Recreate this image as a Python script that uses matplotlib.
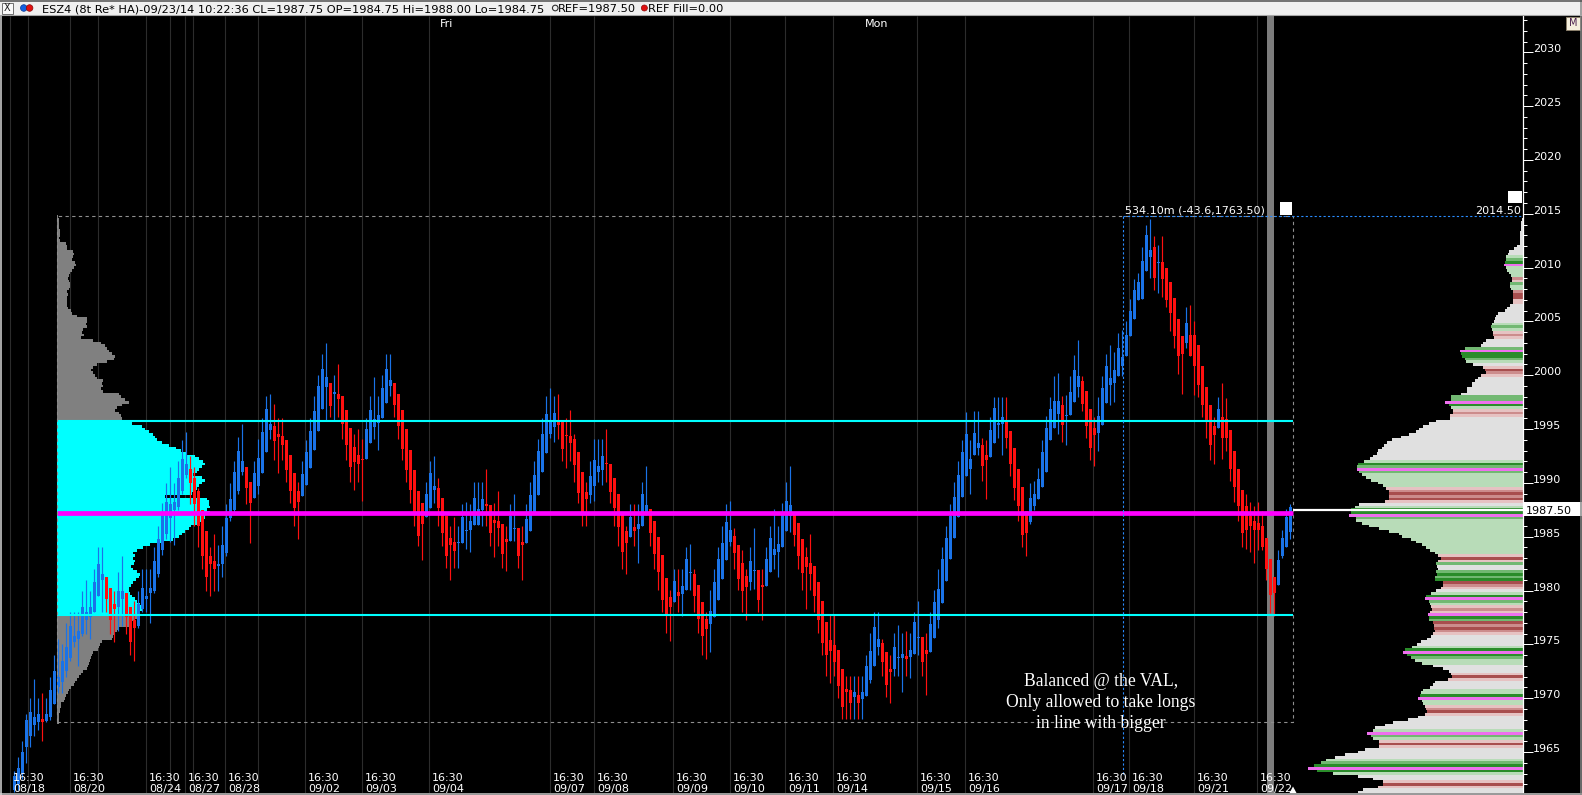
import numpy as np
import matplotlib
matplotlib.use("Agg")
import matplotlib.pyplot as plt
from matplotlib import transforms
from matplotlib.patches import Rectangle, Circle, Polygon

# ------------------------------------------------------------------ data
opens = [
    1961.5, 1962.0, 1963.0, 1965.5, 1966.5, 1967.5, 1967.75, 1968.1, 1967.9, 1968.25,
    1969.5, 1971.0, 1971.5, 1972.5, 1973.75, 1975.25, 1975.5, 1976.0, 1977.25, 1977.5,
    1978.0, 1979.5, 1981.0, 1981.25, 1980.25, 1978.75, 1978.5, 1979.25, 1979.75, 1978.5,
    1977.25, 1976.75, 1978.25, 1979.25, 1979.75, 1980.0, 1981.5, 1983.75, 1985.25, 1986.75,
    1987.5, 1987.75, 1989.25, 1990.75, 1991.25, 1990.5, 1989.25, 1987.5, 1985.5, 1983.25,
    1982.75, 1982.25, 1982.5, 1983.5, 1986.75, 1987.5, 1989.25, 1991.0, 1991.5, 1990.1,
    1988.6, 1989.7, 1990.9, 1992.9, 1994.9, 1995.3, 1994.5, 1994.35, 1994.0, 1992.6,
    1990.9, 1989.25, 1988.8, 1989.8, 1991.35, 1993.05, 1994.85, 1996.9, 1998.9, 1999.3,
    1998.3, 1998.3, 1998.1, 1996.8, 1995.1, 1993.3, 1992.6, 1992.2, 1992.25, 1993.7,
    1995.2, 1995.6, 1996.0, 1997.45, 1999.0, 1999.3, 1998.3, 1996.8, 1995.0, 1993.05,
    1991.2, 1989.25, 1988.1, 1986.8, 1987.7, 1989.35, 1989.5, 1988.6, 1986.9, 1984.9,
    1984.5, 1984.4, 1984.4, 1985.56, 1985.6, 1986.1, 1986.1, 1987.5, 1987.95, 1987.95,
    1986.55, 1986.45, 1986.15, 1984.75, 1984.6, 1985.75, 1985.8, 1984.5, 1984.4, 1985.5,
    1987.2, 1988.9, 1991.0, 1992.75, 1994.55, 1995.2, 1995.85, 1995.7, 1994.45, 1994.35,
    1994.08, 1992.9, 1991.0, 1989.2, 1988.9, 1989.75, 1991.0, 1991.2, 1991.85, 1991.8,
    1990.5, 1989.0, 1987.3, 1985.55, 1985.0, 1985.9, 1985.7, 1985.95, 1987.0, 1987.6,
    1986.5, 1985.0, 1983.3, 1981.15, 1979.4, 1978.9, 1979.9, 1979.7, 1980.05, 1981.6,
    1981.55, 1980.5, 1978.95, 1977.35, 1976.9, 1977.5, 1979.1, 1981.1, 1982.8, 1984.55,
    1985.05, 1984.2, 1982.6, 1981.35, 1980.8, 1981.8, 1981.9, 1980.5, 1980.4, 1981.75,
    1983.3, 1983.6, 1984.0, 1985.5, 1986.95, 1987.3, 1986.25, 1984.75, 1983.1, 1982.6,
    1982.3, 1980.8, 1979.05, 1977.1, 1975.4, 1974.95, 1974.5, 1972.7, 1970.9, 1970.75,
    1970.15, 1970.3, 1969.95, 1970.25, 1971.65, 1973.0, 1974.8, 1975.1, 1974.25, 1972.7,
    1972.7, 1973.75, 1973.7, 1973.9, 1973.8, 1974.1, 1975.6, 1975.7, 1974.5, 1974.3,
    1975.6, 1977.3, 1978.8, 1980.9, 1982.9, 1984.85, 1986.8, 1988.7, 1990.6, 1991.3,
    1992.55, 1993.2, 1993.5, 1992.6, 1992.4, 1993.7, 1995.4, 1995.5, 1995.7, 1994.8,
    1993.2, 1991.3, 1989.6, 1987.4, 1986.4, 1987.9, 1988.5, 1989.6, 1991.0, 1994.0,
    1995.1, 1996.4, 1997.2, 1996.2, 1996.3, 1997.5, 1998.9, 1999.5, 1998.5, 1996.9,
    1995.1, 1994.6, 1995.4, 1997.4, 1999.1, 1999.3, 1999.9, 2000.9, 2001.8, 2003.6,
    2005.2, 2007.0, 2007.1, 2009.7, 2010.95, 2011.9, 2010.4, 2010.5, 2010.0, 2008.7,
    2007.2, 2005.2, 2003.6, 2002.95, 2003.75, 2003.75, 2002.8, 2000.9, 1998.95, 1997.2,
    1995.25, 1995.1, 1996.1, 1995.9, 1994.95, 1993.0, 1991.3, 1989.35, 1987.9, 1986.95,
    1986.5, 1986.3, 1985.98, 1984.9, 1982.9, 1981.3, 1980.5, 1983.25, 1984.0, 1985.4,
]
closes = [
    1962.75, 1963.5, 1965.0, 1968.0, 1968.75, 1968.25, 1968.5, 1967.75, 1968.5, 1970.75,
    1972.5, 1972.0, 1973.5, 1974.75, 1976.75, 1975.75, 1976.25, 1978.5, 1978.0, 1978.5,
    1980.75, 1982.5, 1981.5, 1979.25, 1977.25, 1978.25, 1980.0, 1980.0, 1977.5, 1975.25,
    1976.5, 1978.75, 1980.25, 1979.5, 1980.25, 1982.75, 1984.75, 1987.0, 1988.25, 1988.0,
    1988.25, 1990.5, 1992.25, 1991.75, 1990.0, 1988.0, 1986.0, 1983.25, 1981.25, 1982.5,
    1982.0, 1982.5, 1984.25, 1986.75, 1988.5, 1991.0, 1993.0, 1992.0, 1989.5, 1988.1,
    1990.9, 1992.3, 1994.75, 1996.9, 1995.5, 1993.9, 1994.3, 1993.5, 1991.2, 1989.25,
    1987.7, 1988.25, 1990.8, 1992.9, 1994.8, 1996.7, 1999.0, 2000.6, 1999.8, 1997.15,
    1998.4, 1997.8, 1995.5, 1993.5, 1991.45, 1991.9, 1991.8, 1992.1, 1995.0, 1996.8,
    1995.9, 1996.3, 1998.8, 2000.6, 1999.6, 1997.2, 1995.3, 1993.15, 1991.2, 1989.3,
    1987.3, 1985.1, 1986.2, 1988.95, 1990.9, 1989.7, 1987.7, 1985.3, 1983.2, 1984.2,
    1983.7, 1984.5, 1986.8, 1985.62, 1986.5, 1988.6, 1987.6, 1988.5, 1987.9, 1985.3,
    1986.3, 1985.8, 1983.4, 1984.55, 1986.95, 1985.85, 1983.25, 1984.2, 1986.65, 1988.9,
    1990.7, 1992.95, 1994.5, 1996.4, 1995.85, 1996.5, 1995.4, 1993.15, 1994.35, 1993.75,
    1991.67, 1989.1, 1987.3, 1988.5, 1990.6, 1992.1, 1991.6, 1992.5, 1991.75, 1989.2,
    1987.7, 1985.9, 1983.6, 1984.45, 1986.8, 1985.55, 1986.2, 1988.95, 1987.95, 1985.3,
    1983.4, 1981.7, 1979.1, 1977.6, 1978.45, 1980.9, 1979.5, 1980.45, 1982.9, 1981.7,
    1979.5, 1977.4, 1975.8, 1976.4, 1978.1, 1980.8, 1982.9, 1984.4, 1986.35, 1985.6,
    1983.5, 1981.1, 1980.0, 1980.35, 1982.75, 1981.9, 1979.1, 1980.35, 1982.9, 1984.85,
    1983.9, 1984.3, 1987.1, 1988.3, 1987.95, 1985.15, 1983.25, 1981.6, 1982.15, 1981.55,
    1979.45, 1977.3, 1975.15, 1974.0, 1974.4, 1973.4, 1971.1, 1969.15, 1970.6, 1969.6,
    1970.55, 1969.6, 1970.55, 1973.0, 1974.4, 1976.65, 1975.5, 1973.4, 1971.2, 1972.45,
    1974.75, 1973.8, 1974.15, 1973.65, 1974.5, 1977.05, 1975.7, 1973.4, 1974.1, 1976.9,
    1978.9, 1980.15, 1982.9, 1984.85, 1986.95, 1988.7, 1990.75, 1992.9, 1994.5, 1992.25,
    1994.6, 1993.7, 1991.6, 1992.1, 1994.95, 1997.0, 1995.6, 1996.1, 1994.15, 1991.75,
    1989.5, 1987.9, 1985.2, 1985.3, 1988.6, 1989.0, 1990.4, 1992.9, 1995.1, 1996.9,
    1997.6, 1997.6, 1995.4, 1996.35, 1998.4, 2000.5, 1999.9, 1997.35, 1995.25, 1993.2,
    1994.45, 1996.2, 1998.8, 2000.9, 1999.75, 2000.5, 2002.5, 2001.7, 2003.75, 2006.0,
    2007.9, 2008.7, 2010.6, 2013.05, 2011.6, 2009.05, 2010.5, 2008.9, 2006.95, 2005.8,
    2003.6, 2001.8, 2002.0, 2004.9, 2001.8, 2000.9, 1999.1, 1997.2, 1995.75, 1993.5,
    1994.45, 1996.9, 1994.15, 1994.15, 1991.3, 1989.65, 1987.9, 1985.35, 1985.65, 1985.98,
    1985.65, 1985.65, 1984.05, 1981.98, 1979.6, 1979.75, 1982.8, 1984.85, 1986.8, 1987.75,
]
highs = [
    1963.25, 1964.5, 1966.0, 1968.5, 1970.0, 1971.75, 1970.0, 1970.5, 1970.0, 1972.0,
    1974.0, 1975.5, 1975.0, 1977.0, 1978.0, 1978.0, 1978.0, 1980.0, 1981.0, 1980.0,
    1982.0, 1984.0, 1984.0, 1981.25, 1980.25, 1980.0, 1981.75, 1983.25, 1979.75, 1978.5,
    1979.0, 1980.0, 1982.0, 1982.0, 1982.0, 1984.0, 1986.0, 1988.1, 1990.0, 1991.5,
    1990.0, 1992.0, 1994.0, 1994.75, 1992.5, 1991.5, 1989.5, 1987.5, 1985.5, 1984.0,
    1985.25, 1984.25, 1986.0, 1988.0, 1990.0, 1992.0, 1994.25, 1995.5, 1991.5, 1990.1,
    1992.0, 1994.1, 1996.0, 1998.1, 1998.25, 1997.3, 1996.0, 1996.0, 1994.0, 1992.6,
    1990.9, 1990.05, 1992.0, 1994.0, 1996.0, 1998.1, 2000.0, 2002.0, 2003.0, 1999.3,
    2000.0, 2001.0, 1998.1, 1996.8, 1995.1, 1994.5, 1995.0, 1994.1, 1996.0, 1998.1,
    1999.8, 1998.1, 2000.0, 2002.0, 2002.0, 1999.3, 1998.3, 1996.8, 1995.0, 1993.05,
    1991.2, 1989.25, 1988.1, 1990.05, 1992.0, 1992.5, 1990.5, 1988.6, 1986.9, 1986.0,
    1986.8, 1986.0, 1988.0, 1988.25, 1988.0, 1990.05, 1990.05, 1990.05, 1991.25, 1987.95,
    1988.1, 1989.25, 1986.15, 1986.0, 1988.05, 1989.0, 1985.8, 1986.0, 1988.05, 1990.05,
    1992.05, 1994.1, 1996.0, 1998.1, 1998.8, 1998.1, 1998.25, 1995.7, 1996.0, 1996.8,
    1994.5, 1992.9, 1991.0, 1990.1, 1992.07, 1994.1, 1994.1, 1994.1, 1994.98, 1991.8,
    1990.5, 1989.0, 1987.3, 1986.0, 1988.05, 1988.05, 1988.05, 1990.1, 1991.6, 1987.6,
    1986.5, 1985.0, 1983.3, 1981.15, 1980.05, 1981.98, 1981.98, 1981.98, 1984.0, 1984.3,
    1981.98, 1980.5, 1978.95, 1978.05, 1980.05, 1981.98, 1984.0, 1986.0, 1988.05, 1988.3,
    1985.8, 1984.2, 1983.8, 1981.98, 1984.0, 1985.8, 1981.9, 1981.98, 1984.0, 1986.0,
    1987.55, 1986.0, 1988.1, 1990.1, 1991.6, 1987.3, 1986.25, 1984.75, 1984.05, 1985.25,
    1982.3, 1980.8, 1979.05, 1977.1, 1977.8, 1977.8, 1974.5, 1972.7, 1972.07, 1972.07,
    1972.07, 1972.07, 1972.07, 1974.0, 1976.03, 1978.0, 1978.0, 1975.5, 1974.25, 1974.0,
    1976.03, 1976.8, 1976.03, 1976.25, 1976.03, 1978.0, 1979.0, 1975.7, 1976.03, 1978.0,
    1980.05, 1981.98, 1984.0, 1986.0, 1988.05, 1990.05, 1992.05, 1994.0, 1996.55, 1994.0,
    1996.7, 1996.7, 1994.15, 1994.0, 1996.1, 1998.0, 1998.0, 1998.0, 1998.0, 1994.8,
    1993.2, 1991.3, 1989.6, 1987.4, 1990.0, 1990.15, 1991.4, 1994.0, 1996.2, 1998.0,
    1999.9, 2000.2, 1998.1, 1998.2, 1999.9, 2001.9, 2003.3, 1999.9, 1998.5, 1996.9,
    1996.1, 1998.0, 1999.9, 2002.0, 2002.8, 2002.15, 2003.9, 2004.2, 2005.0, 2007.1,
    2008.9, 2009.5, 2011.9, 2014.0, 2014.5, 2012.9, 2012.1, 2012.9, 2010.0, 2008.7,
    2007.2, 2005.2, 2003.6, 2006.3, 2006.5, 2005.0, 2002.8, 2000.9, 1998.95, 1997.2,
    1996.1, 1998.0, 1999.25, 1997.85, 1994.95, 1993.0, 1991.3, 1989.35, 1989.0, 1988.2,
    1987.9, 1988.2, 1987.4, 1984.9, 1982.9, 1981.3, 1983.75, 1985.6, 1987.6, 1988.0,
]
lows = [
    1961.25, 1961.5, 1962.5, 1964.0, 1965.5, 1966.5, 1967.0, 1966.0, 1967.75, 1968.0,
    1969.5, 1970.5, 1970.5, 1972.0, 1973.5, 1974.75, 1973.0, 1975.75, 1976.0, 1975.5,
    1978.0, 1979.5, 1978.0, 1978.0, 1976.0, 1975.25, 1976.25, 1976.75, 1976.0, 1974.0,
    1973.5, 1976.5, 1978.0, 1978.0, 1977.0, 1979.75, 1981.25, 1983.3, 1984.75, 1984.5,
    1984.25, 1987.5, 1989.0, 1990.5, 1988.0, 1986.0, 1984.0, 1982.0, 1980.0, 1979.5,
    1980.0, 1980.0, 1981.25, 1983.25, 1986.5, 1987.25, 1989.0, 1990.75, 1988.0, 1984.4,
    1988.6, 1989.0, 1990.9, 1992.9, 1994.1, 1992.1, 1990.9, 1992.1, 1990.1, 1988.1,
    1986.0, 1984.8, 1988.8, 1989.8, 1991.35, 1993.05, 1994.85, 1996.9, 1995.8, 1996.1,
    1995.85, 1996.1, 1994.1, 1992.1, 1990.1, 1989.3, 1990.1, 1988.35, 1992.25, 1993.7,
    1994.1, 1993.1, 1996.0, 1997.45, 1998.1, 1996.1, 1994.1, 1992.1, 1990.1, 1988.1,
    1986.0, 1984.1, 1982.8, 1986.8, 1987.7, 1988.1, 1986.0, 1984.1, 1982.1, 1981.0,
    1982.1, 1982.1, 1984.4, 1983.9, 1983.6, 1986.1, 1986.1, 1986.0, 1986.0, 1984.1,
    1983.1, 1984.1, 1982.1, 1981.85, 1984.6, 1984.6, 1982.1, 1981.0, 1984.4, 1985.5,
    1987.2, 1988.9, 1991.0, 1992.75, 1994.15, 1993.8, 1994.1, 1992.07, 1991.35, 1992.07,
    1990.1, 1988.1, 1986.0, 1986.0, 1988.1, 1988.35, 1990.1, 1989.8, 1990.1, 1988.1,
    1986.0, 1984.1, 1982.0, 1981.55, 1985.0, 1984.1, 1982.6, 1985.95, 1987.0, 1984.1,
    1982.0, 1980.05, 1978.05, 1976.03, 1975.35, 1978.9, 1978.05, 1977.6, 1980.05, 1980.05,
    1978.05, 1976.03, 1974.0, 1973.6, 1974.3, 1977.5, 1979.1, 1981.1, 1982.8, 1984.1,
    1981.98, 1980.05, 1978.05, 1977.3, 1980.05, 1980.1, 1978.05, 1977.3, 1980.4, 1981.75,
    1982.0, 1981.3, 1984.0, 1985.5, 1985.45, 1984.1, 1982.0, 1980.05, 1978.3, 1980.05,
    1978.05, 1976.03, 1974.0, 1972.05, 1971.4, 1972.07, 1970.0, 1968.05, 1968.05, 1968.05,
    1968.05, 1968.05, 1968.05, 1970.25, 1971.4, 1973.0, 1974.0, 1972.07, 1970.15, 1969.6,
    1972.07, 1972.07, 1970.6, 1972.07, 1971.85, 1974.1, 1974.0, 1972.07, 1970.3, 1974.3,
    1975.6, 1976.55, 1978.8, 1980.9, 1982.9, 1984.85, 1986.8, 1988.7, 1990.6, 1989.0,
    1992.55, 1992.55, 1990.15, 1988.5, 1992.4, 1993.7, 1994.15, 1992.55, 1993.2, 1990.6,
    1988.4, 1986.45, 1984.05, 1983.25, 1986.2, 1987.5, 1988.5, 1989.6, 1991.0, 1994.0,
    1995.1, 1994.5, 1993.8, 1993.5, 1996.3, 1997.5, 1998.0, 1996.7, 1994.15, 1992.1,
    1991.6, 1993.0, 1995.4, 1997.4, 1997.2, 1997.5, 1999.9, 1999.9, 2001.8, 2003.6,
    2005.2, 2007.0, 2007.1, 2009.7, 2009.05, 2007.9, 2007.6, 2007.3, 2006.3, 2004.1,
    2002.5, 2000.1, 1998.3, 2002.5, 2001.8, 1998.15, 1998.0, 1996.1, 1994.15, 1992.1,
    1991.75, 1995.1, 1992.25, 1993.0, 1990.15, 1988.2, 1986.45, 1984.05, 1983.9, 1983.6,
    1982.6, 1983.75, 1983.75, 1981.0, 1977.9, 1977.65, 1980.5, 1983.0, 1984.0, 1984.75,
]

# session separators (in bar units) with their labels
session_pos = [-1.0, 14.0, 33.0, 42.75, 52.75, 72.75, 87.0, 103.75, 134.0, 145.0,
               164.75, 179.0, 192.75, 204.75, 225.75, 237.75, 269.75, 278.75, 295.0, 310.75]
session_dates = ['08/18', '08/20', '08/24', '08/27', '08/28', '09/02', '09/03', '09/04', '09/07', '09/08',
                 '09/09', '09/10', '09/11', '09/14', '09/15', '09/16', '09/17', '09/18', '09/21', '09/22']
session_time = '16:30'
other_separators = [3.5, 21.0, 39.0, 44.75, 61.0]
selected_span = (313.25, 315.0)
day_pos = [108.25, 215.75]
day_names = ['Fri', 'Mon']

# composite profile on the left (volume per 0.25 tick, top row = 2014.75)
left_top = 2014.75
left_volume = [
    1,
    2, 2, 2, 2,
    3, 3, 3, 2,
    3, 9, 10, 10,
    16, 17, 16, 15,
    18, 19, 17, 15,
    13, 12, 11, 12,
    13, 13, 12, 10,
    11, 10, 10, 10,
    10, 11, 14, 15,
    20, 30, 30, 29,
    30, 26, 25, 27,
    24, 36, 44, 48,
    50, 52, 55, 58,
    57, 50, 40, 36,
    34, 36, 38, 40,
    46, 45, 46, 44,
    46, 62, 64, 68,
    72, 65, 60, 58,
    62, 64, 65, 70,
    75, 85, 88, 92,
    96, 98, 100, 105,
    112, 119, 124, 129,
    138, 142, 146, 148,
    145, 142, 140, 136,
    145, 148, 145, 142,
    140, 138, 135, 108,
    150, 152, 152, 153,
    150, 153, 148, 148,
    145, 140, 134, 132,
    128, 125, 122, 116,
    104, 93, 86, 80,
    76, 78, 76, 78,
    77, 74, 76, 80,
    83, 82, 79, 76,
    74, 72, 72, 73,
    75, 78, 80, 83,
    86, 85, 82, 80,
    83, 78, 75, 72,
    62, 60, 58, 56,
    55, 45, 43, 42,
    41, 36, 35, 34,
    33, 32, 31, 30,
    26, 24, 22, 20,
    18, 17, 14, 12,
    11, 9, 8, 7,
    4, 4, 3, 3,
    2, 2, 2, 2,
]
vah, val, poc = 1995.75, 1977.75, 1987.25
range_high, range_low = 2014.50, 1967.75
last_price = 1987.50
measure_text = '534.10m (-43.6,1763.50)'

# volume profile at the right axis (volume, kind) per 0.25 tick, top row = 2014.50
right_top = 2014.50
right_profile = [
    (1, 'g'),
    (2, 'g'), (2, 'g'), (2, 'g'), (2, 'g'),
    (3, 'g'), (3, 'g'), (3, 'g'), (3, 'g'),
    (3, 'g'), (6, 'g'), (9, 'g'), (14, 'g'),
    (15, 'g'), (17, 'l'), (17, 'm'), (18, 'd'),
    (19, 'x'), (17, 'l'), (16, 'l'), (14, 'l'),
    (12, 'l'), (11, 'r'), (11, 'p'), (13, 'm'),
    (13, 'l'), (12, 'l'), (10, 'r'), (10, 'k'),
    (10, 'k'), (10, 'p'), (10, 'p'), (13, 'g'),
    (16, 'g'), (18, 'g'), (25, 'g'), (27, 'g'),
    (28, 'g'), (29, 'g'), (31, 'l'), (32, 'm'),
    (31, 'l'), (30, 'p'), (30, 'r'), (29, 'p'),
    (37, 'g'), (40, 'g'), (42, 'g'), (58, 'm'),
    (63, 'x'), (62, 'd'), (61, 'd'), (58, 'm'),
    (57, 'l'), (50, 'g'), (40, 'p'), (38, 'k'),
    (37, 'r'), (42, 'p'), (45, 'g'), (48, 'g'),
    (51, 'g'), (51, 'g'), (56, 'g'), (56, 'g'),
    (62, 'g'), (72, 'm'), (72, 'm'), (78, 'x'),
    (74, 'd'), (72, 'l'), (70, 'p'), (70, 'r'),
    (73, 'p'), (73, 'g'), (87, 'g'), (94, 'g'),
    (100, 'g'), (104, 'g'), (107, 'g'), (114, 'g'),
    (122, 'g'), (131, 'g'), (136, 'g'), (139, 'g'),
    (141, 'g'), (145, 'g'), (146, 'g'), (150, 'g'),
    (153, 'g'), (159, 'l'), (165, 'd'), (166, 'm'),
    (166, 'x'), (164, 'm'), (161, 'l'), (157, 'l'),
    (152, 'l'), (145, 'l'), (140, 'l'), (137, 'p'),
    (134, 'r'), (134, 'k'), (134, 'r'), (134, 'k'),
    (138, 'p'), (164, 'g'), (168, 'l'), (172, 'd'),
    (172, 'd'), (174, 'x'), (167, 'm'), (167, 'l'),
    (161, 'l'), (154, 'l'), (144, 'l'), (134, 'l'),
    (124, 'l'), (121, 'l'), (112, 'l'), (107, 'l'),
    (101, 'l'), (97, 'l'), (93, 'l'), (88, 'l'),
    (85, 'p'), (82, 'k'), (85, 'p'), (87, 'm'),
    (86, 'g'), (85, 'g'), (87, 'm'), (86, 'd'),
    (88, 'm'), (88, 'd'), (80, 'k'), (80, 'r'),
    (82, 'p'), (87, 'g'), (92, 'l'), (97, 'd'),
    (98, 'x'), (94, 'm'), (93, 'l'), (92, 'p'),
    (91, 'r'), (93, 'p'), (95, 'x'), (94, 'd'),
    (94, 'm'), (90, 'k'), (89, 'r'), (89, 'k'),
    (88, 'r'), (90, 'p'), (92, 'g'), (96, 'g'),
    (102, 'g'), (106, 'g'), (111, 'l'), (118, 'd'),
    (120, 'x'), (116, 'd'), (112, 'm'), (108, 'l'),
    (101, 'l'), (90, 'g'), (80, 'g'), (74, 'g'),
    (72, 'p'), (71, 'k'), (75, 'p'), (88, 'g'),
    (90, 'g'), (93, 'g'), (100, 'l'), (102, 'l'),
    (103, 'd'), (105, 'x'), (101, 'l'), (100, 'l'),
    (98, 'p'), (97, 'r'), (96, 'k'), (98, 'p'),
    (105, 'g'), (115, 'g'), (130, 'g'), (138, 'g'),
    (148, 'g'), (150, 'l'), (156, 'x'), (152, 'm'),
    (150, 'l'), (144, 'p'), (144, 'k'), (144, 'p'),
    (158, 'g'), (165, 'g'), (178, 'g'), (188, 'g'),
    (197, 'l'), (202, 'm'), (209, 'd'), (215, 'x'),
    (206, 'd'), (190, 'l'), (165, 'g'), (150, 'g'),
    (140, 'p'), (140, 'k'), (145, 'p'), (160, 'g'),
    (165, 'g'),
]

title_main = 'ESZ4 (8t Re* HA)-09/23/14 10:22:36 CL=1987.75 OP=1984.75 Hi=1988.00 Lo=1984.75'
title_ref = 'REF=1987.50'
title_fill = 'REF Fill=0.00'
note_lines = ['Balanced @ the VAL,', 'Only allowed to take longs', 'in line with bigger']
major_ticks = list(range(1965, 2031, 5))
minor_ticks = list(range(1962, 2034))

# ------------------------------------------------------------------ layout
W, H, DPI = 1582, 795, 100
BLUE, RED = '#1a73e8', '#ff1010'
KIND_COLORS = {'g': '#e0e0e0', 'l': '#b8dcb8', 'm': '#72b872', 'd': '#2a8c2a',
               'p': '#e6c2c2', 'r': '#cc8c8c', 'k': '#a84e4e', 'x': '#ee70ee'}
plt.rcParams['font.family'] = ['DejaVu Sans']

PLOT_R, PLOT_T, PLOT_B = 1522.5, 16.0, 793.0
Y_REF_PRICE, Y_REF_PX, PX_PER_PT = 2030.0, 52.3, 10.765
BAR0_PX, BAR_PX = 14.0, 4.0
TICK = 0.25


def price_at(px):
    return Y_REF_PRICE - (px - Y_REF_PX) / PX_PER_PT


def px_at(price):
    return Y_REF_PX + (Y_REF_PRICE - price) * PX_PER_PT


def xd(px):
    return (px - BAR0_PX) / BAR_PX


fig = plt.figure(figsize=(W / DPI, H / DPI), dpi=DPI)
fig.patch.set_facecolor('black')

ax = fig.add_axes([0, 1 - PLOT_B / H, PLOT_R / W, (PLOT_B - PLOT_T) / H])
ax.set_facecolor('black')
XL = (xd(0), xd(PLOT_R))
YL = (price_at(PLOT_B), price_at(PLOT_T))
ax.set_xlim(*XL)
ax.set_ylim(*YL)
for s in ['left', 'top', 'bottom']:
    ax.spines[s].set_visible(False)
ax.spines['right'].set_color('white')
ax.spines['right'].set_linewidth(0.9)
ax.set_xticks([])
ax.yaxis.tick_right()
ax.set_yticks(major_ticks)
ax.set_yticks(minor_ticks, minor=True)
ax.tick_params(axis='y', which='major', length=7.2, width=0.72, color='white',
               labelright=False, labelleft=False, right=True, left=False)
ax.tick_params(axis='y', which='minor', length=2.9, width=0.72, color='white',
               labelright=False, labelleft=False, right=True, left=False)

# session separators and selected session
ax.vlines(session_pos + other_separators, YL[0], YL[1], colors='#2c2c2c', lw=0.8, zorder=0.5)
ax.axvspan(selected_span[0], selected_span[1], color='#7c7c7c', lw=0, zorder=0.6)

# left composite profile
lv = np.array(left_volume, dtype=float)
l_levels = left_top - TICK * np.arange(len(lv))
l_cols = ['#00ffff' if val <= p <= vah else '#808080' for p in l_levels]
ax.barh(l_levels, lv / BAR_PX, height=TICK, left=xd(57), color=l_cols, lw=0,
        antialiased=False, zorder=1)

# right volume profile
rv = np.array([v for v, k in right_profile], dtype=float)
r_levels = right_top - TICK * np.arange(len(rv))
r_cols = [KIND_COLORS[k] for v, k in right_profile]
ax.barh(r_levels, rv / BAR_PX, height=TICK, left=XL[1] - rv / BAR_PX, color=r_cols, lw=0,
        antialiased=False, zorder=1)

# candles
o = np.array(opens); c = np.array(closes); h = np.array(highs); l = np.array(lows)
idx = np.arange(len(o))
cols = np.where(c >= o, BLUE, RED)
ax.vlines(idx, l, h, colors=cols, lw=0.85, zorder=3)
ax.bar(idx, np.maximum(np.abs(c - o), 0.1), bottom=np.minimum(o, c), width=0.75,
       color=cols, lw=0, zorder=3.1)

# value area lines / POC
x_end = xd(1293)
ax.hlines([vah, val], xd(57), x_end, colors='#00ffff', lw=1.5, zorder=4)
ax.hlines(poc, xd(57), x_end, colors='#ff00ff', lw=3.4, zorder=4.1)

# range box (drawn one tick outside the range high)
box_top = range_high + TICK
ax.add_patch(Rectangle((xd(57), range_low), x_end - xd(57), box_top - range_low,
                       fill=False, ec='#8f8f8f', lw=0.8, ls=(0, (3, 3)), zorder=4.2))
# measurement lines
ax.hlines(box_top, xd(1123), XL[1], colors='#2a8cff', lw=0.8, linestyles=(0, (2, 2)), zorder=4.3)
ax.vlines(xd(1123), 1963.0, box_top, colors='#2a8cff', lw=0.8, linestyles=(0, (2, 2)), zorder=4.3)
# last price line
ax.hlines(last_price, x_end, XL[1], colors='white', lw=1.6, zorder=5)

# ------------------------------------------------------------------ overlay (pixel coords)
ov = fig.add_axes([0, 0, 1, 1], zorder=10)
ov.set_xlim(0, W)
ov.set_ylim(H, 0)
ov.axis('off')
ov.patch.set_visible(False)

t_right = transforms.blended_transform_factory(ov.transData, ax.transData)
t_bottom = transforms.blended_transform_factory(ax.transData, ov.transData)

for v in major_ticks:
    ov.text(1533, v, str(v), transform=t_right, color='white', fontsize=8,
            ha='left', va='baseline', clip_on=False)

# last price tag
yl = px_at(last_price)
ov.add_patch(Rectangle((1523, yl - 7.5), 59, 13.5, fc='white', ec='none'))
ov.text(1526, yl + 4.3, '1987.50', color='black', fontsize=8, ha='left', va='baseline')

# range high tag and handles
yh = px_at(box_top)
ov.text(1521, yh - 2.5, '2014.50', color='white', fontsize=8, ha='right', va='baseline')
ov.text(1125, yh - 2.5, measure_text, color='white', fontsize=8, ha='left', va='baseline')
ov.add_patch(Rectangle((1280, 202), 12, 13, fc='white', ec='none'))
ov.add_patch(Rectangle((1508, 191), 14, 12, fc='white', ec='none'))

# x labels
for pos, lab in zip(session_pos, session_dates):
    ov.text(pos + 0.75, 781, session_time, transform=t_bottom, color='white', fontsize=8,
            ha='left', va='baseline')
    ov.text(pos + 0.75, 792, lab, transform=t_bottom, color='white', fontsize=8,
            ha='left', va='baseline')
for pos, nm in zip(day_pos, day_names):
    ov.text(pos, 27, nm, transform=t_bottom, color='white', fontsize=8, ha='center', va='baseline')

# note
for k, line in enumerate(note_lines):
    ov.text(1101, 682 + 20.5 * k, line, color='white', fontsize=12.7, ha='center', va='center',
            family=['Liberation Serif', 'DejaVu Serif'])

# marker triangle at bottom
ov.add_patch(Polygon([(1289.5, 793), (1296.5, 793), (1293, 786.5)], closed=True, fc='white', ec='none'))

# M button
ov.add_patch(Rectangle((1566, 17), 14, 12.5, fc='#f4efdd', ec='#8a7f6a', lw=0.7))
ov.text(1573, 23.5, 'M', color='#4a2050', fontsize=7, ha='center', va='center')

# borders
ov.add_patch(Rectangle((0, 793), W, 2, fc='#9a9a9a', ec='none'))
ov.plot([0.8, 0.8], [15.5, 795], color='#d6d6d6', lw=1.1)
ov.plot([W - 0.8, W - 0.8], [0, 795], color='#8a8a8a', lw=1.1)

# title bar
ov.add_patch(Rectangle((0, 0), W, 15.5, fc='#f0f0f0', ec='none'))
ov.plot([0, W], [0.6, 0.6], color='#505050', lw=1.1)
ov.plot([0, W], [15.3, 15.3], color='#a8a8a8', lw=0.8)
ov.add_patch(Rectangle((2, 2.5), 11, 11, fc='#fbfbfb', ec='#707070', lw=0.7))
ov.text(7.5, 8.3, 'X', color='#202020', fontsize=7, ha='center', va='center')
ov.add_patch(Circle((23.8, 8), 3.3, fc='#1560e0', ec='#0b3c94', lw=0.5))
ov.add_patch(Circle((29.6, 8), 3.3, fc='#e01010', ec='#8a0a0a', lw=0.5))

t1 = ov.text(42, 12, title_main, color='black', fontsize=8, ha='left', va='baseline')
fig.canvas.draw()
r = fig.canvas.get_renderer()
w1 = t1.get_window_extent(r).width
fs = 8 * 503.5 / w1
t1.set_fontsize(fs)
fig.canvas.draw()
x_end1 = t1.get_window_extent(r).x1
ov.add_patch(Circle((x_end1 + 11, 8), 2.8, fc='none', ec='#303030', lw=0.8))
t2 = ov.text(x_end1 + 14, 12, title_ref, color='black', fontsize=fs, ha='left', va='baseline')
fig.canvas.draw()
x_end2 = t2.get_window_extent(r).x1
ov.add_patch(Circle((x_end2 + 8, 8), 3.0, fc='#e01010', ec='#8a0a0a', lw=0.5))
ov.text(x_end2 + 11.5, 12, title_fill, color='black', fontsize=fs, ha='left', va='baseline')

fig.savefig('out.png', dpi=DPI, facecolor='black')
